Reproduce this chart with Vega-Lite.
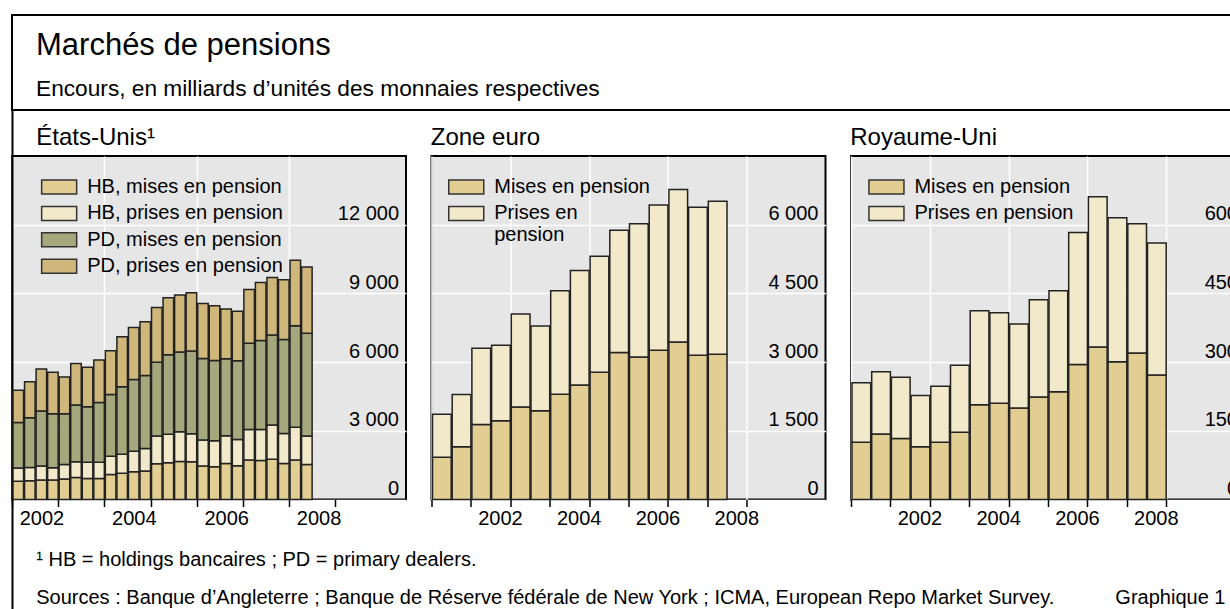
{
  "$schema": "https://vega.github.io/schema/vega-lite/v6.json",
  "padding": {"left": 10, "top": 14, "right": 0, "bottom": 0},
  "background": "#ffffff",
  "spacing": 0,
  "config": {
    "font": "Liberation Sans",
    "view": {"stroke": null},
    "title": {"fontWeight": "normal", "color": "#000000", "subtitleColor": "#000000", "anchor": "start", "baseline": "top", "font": "Liberation Sans", "subtitleFont": "Liberation Sans"},
    "axis": {"labelFont": "Liberation Sans", "labelFontSize": 20, "labelColor": "#000000", "title": null},
    "legend": {"labelFont": "Liberation Sans", "labelFontSize": 20, "labelColor": "#000000", "symbolType": "M-2,-0.8H2V0.8H-2Z", "symbolSize": 306.25, "symbolStrokeWidth": 1.5, "symbolStrokeColor": "#333333", "labelOffset": 18, "rowPadding": 6.4, "labelLimit": 400, "padding": 0, "orient": "none"}
  },
  "vconcat": [
    {
      "width": 1221,
      "height": 95,
      "view": {"stroke": "#000000", "strokeWidth": 2},
      "title": {"text": "Marchés de pensions", "subtitle": "Encours, en milliards d’unités des monnaies respectives", "orient": "bottom", "offset": -79.5, "dx": 24, "fontSize": 31, "subtitleFontSize": 22.7, "subtitlePadding": 16.3},
      "data": {"values": []},
      "mark": "text"
    },
    {
      "title": {"text": "¹ HB = holdings bancaires ; PD = primary dealers.", "subtitle": "Sources : Banque d’Angleterre ; Banque de Réserve fédérale de New York ; ICMA, European Repo Market Survey.\u00a0\u00a0\u00a0\u00a0\u00a0\u00a0\u00a0\u00a0\u00a0\u00a0\u00a0Graphique 1", "orient": "bottom", "anchor": "start", "frame": "bounds", "offset": -122.8, "dx": 26, "fontSize": 20, "subtitleFontSize": 20, "subtitlePadding": 18},
      "hconcat": [
        {
          "width": 394,
          "height": 343.5,
          "title": {"text": ["", "États-Unis¹"], "lineHeight": 14, "dx": 25, "fontSize": 24, "offset": 6},
          "view": {"fill": "#e6e6e6", "stroke": "#000000", "strokeWidth": 2},
          "layer": [
            {
              "data": {"values": [
                {"debut": 2002.0, "fin": 2002.25, "HB, mises en pension": 800, "HB, prises en pension": 580, "PD, mises en pension": 1980, "PD, prises en pension": 1410},
                {"debut": 2002.25, "fin": 2002.5, "HB, mises en pension": 820, "HB, prises en pension": 580, "PD, mises en pension": 2170, "PD, prises en pension": 1570},
                {"debut": 2002.5, "fin": 2002.75, "HB, mises en pension": 850, "HB, prises en pension": 610, "PD, mises en pension": 2400, "PD, prises en pension": 1840},
                {"debut": 2002.75, "fin": 2003.0, "HB, mises en pension": 850, "HB, prises en pension": 540, "PD, mises en pension": 2360, "PD, prises en pension": 1810},
                {"debut": 2003.0, "fin": 2003.25, "HB, mises en pension": 900, "HB, prises en pension": 630, "PD, mises en pension": 2220, "PD, prises en pension": 1600},
                {"debut": 2003.25, "fin": 2003.5, "HB, mises en pension": 960, "HB, prises en pension": 690, "PD, mises en pension": 2480, "PD, prises en pension": 1810},
                {"debut": 2003.5, "fin": 2003.75, "HB, mises en pension": 920, "HB, prises en pension": 710, "PD, mises en pension": 2420, "PD, prises en pension": 1720},
                {"debut": 2003.75, "fin": 2004.0, "HB, mises en pension": 920, "HB, prises en pension": 710, "PD, mises en pension": 2610, "PD, prises en pension": 1850},
                {"debut": 2004.0, "fin": 2004.25, "HB, mises en pension": 1090, "HB, prises en pension": 800, "PD, mises en pension": 2700, "PD, prises en pension": 1910},
                {"debut": 2004.25, "fin": 2004.5, "HB, mises en pension": 1150, "HB, prises en pension": 830, "PD, mises en pension": 2940, "PD, prises en pension": 2190},
                {"debut": 2004.5, "fin": 2004.75, "HB, mises en pension": 1210, "HB, prises en pension": 900, "PD, mises en pension": 3130, "PD, prises en pension": 2270},
                {"debut": 2004.75, "fin": 2005.0, "HB, mises en pension": 1240, "HB, prises en pension": 990, "PD, mises en pension": 3180, "PD, prises en pension": 2350},
                {"debut": 2005.0, "fin": 2005.25, "HB, mises en pension": 1560, "HB, prises en pension": 1210, "PD, mises en pension": 3220, "PD, prises en pension": 2390},
                {"debut": 2005.25, "fin": 2005.5, "HB, mises en pension": 1600, "HB, prises en pension": 1250, "PD, mises en pension": 3470, "PD, prises en pension": 2490},
                {"debut": 2005.5, "fin": 2005.75, "HB, mises en pension": 1660, "HB, prises en pension": 1300, "PD, mises en pension": 3480, "PD, prises en pension": 2490},
                {"debut": 2005.75, "fin": 2006.0, "HB, mises en pension": 1650, "HB, prises en pension": 1220, "PD, mises en pension": 3610, "PD, prises en pension": 2550},
                {"debut": 2006.0, "fin": 2006.25, "HB, mises en pension": 1460, "HB, prises en pension": 1140, "PD, mises en pension": 3560, "PD, prises en pension": 2400},
                {"debut": 2006.25, "fin": 2006.5, "HB, mises en pension": 1430, "HB, prises en pension": 1140, "PD, mises en pension": 3500, "PD, prises en pension": 2390},
                {"debut": 2006.5, "fin": 2006.75, "HB, mises en pension": 1570, "HB, prises en pension": 1210, "PD, mises en pension": 3370, "PD, prises en pension": 2170},
                {"debut": 2006.75, "fin": 2007.0, "HB, mises en pension": 1470, "HB, prises en pension": 1150, "PD, mises en pension": 3440, "PD, prises en pension": 2160},
                {"debut": 2007.0, "fin": 2007.25, "HB, mises en pension": 1720, "HB, prises en pension": 1340, "PD, mises en pension": 3760, "PD, prises en pension": 2350},
                {"debut": 2007.25, "fin": 2007.5, "HB, mises en pension": 1700, "HB, prises en pension": 1360, "PD, mises en pension": 3880, "PD, prises en pension": 2540},
                {"debut": 2007.5, "fin": 2007.75, "HB, mises en pension": 1760, "HB, prises en pension": 1490, "PD, mises en pension": 3930, "PD, prises en pension": 2510},
                {"debut": 2007.75, "fin": 2008.0, "HB, mises en pension": 1570, "HB, prises en pension": 1310, "PD, mises en pension": 4110, "PD, prises en pension": 2610},
                {"debut": 2008.0, "fin": 2008.25, "HB, mises en pension": 1720, "HB, prises en pension": 1430, "PD, mises en pension": 4440, "PD, prises en pension": 2860},
                {"debut": 2008.25, "fin": 2008.5, "HB, mises en pension": 1530, "HB, prises en pension": 1240, "PD, mises en pension": 4490, "PD, prises en pension": 2890}
              ]},
              "transform": [{"fold": ["HB, mises en pension", "HB, prises en pension", "PD, mises en pension", "PD, prises en pension"], "as": ["serie", "valeur"]}],
              "mark": {"type": "bar", "stroke": "#222222", "strokeWidth": 1.5},
              "encoding": {
                "x": {"field": "debut", "type": "quantitative", "bin": "binned", "scale": {"domain": [2002, 2010.533], "nice": false, "zero": false},
                  "axis": {"values": [2002, 2003, 2004, 2005, 2006, 2007, 2008, 2009], "labelExpr": "datum.value % 2 == 0 ? datum.value : ''", "labelOffset": 29.5, "labelPadding": 2, "labelFlush": false, "labelOverlap": false, "tickSize": 7, "tickWidth": 1.5, "tickColor": "#000000", "domain": false, "grid": true, "gridColor": "#ffffff", "gridWidth": 1.5, "gridOpacity": {"condition": {"test": "datum.value % 2 == 0", "value": 1}, "value": 0}}},
                "x2": {"field": "fin"},
                "y": {"field": "valeur", "type": "quantitative", "stack": "zero", "scale": {"domain": [0, 15000], "nice": false},
                  "axis": {"orient": "right", "values": [0, 3000, 6000, 9000, 12000], "labelExpr": "replace(format(datum.value, ','), ',', ' ')", "labelAlign": "right", "labelPadding": -7.5, "ticks": false, "tickSize": 0, "domain": false, "grid": true, "gridColor": "#ffffff", "gridWidth": 1.5, "labelBaseline": "alphabetic", "labelOffset": -5, "labelOverlap": false, "labelFlush": false}},
                "color": {"field": "serie", "type": "nominal",
                  "scale": {"domain": ["HB, mises en pension", "HB, prises en pension", "PD, mises en pension", "PD, prises en pension"], "range": ["#e2ce92", "#f2e9ca", "#a5a87c", "#cfb67b"]},
                  "legend": {"title": null, "legendX": 37.15, "legendY": 21}},
                "order": {"field": "serie", "sort": "ascending"}
              }
            },
            {
              "data": {"values": []},
              "mark": "text",
              "encoding": {
                "y": {"field": "v", "type": "quantitative", "scale": {"domain": [0, 1], "range": [470, -46]}, "axis": {"orient": "left", "domain": true, "domainColor": "#000000", "domainWidth": 2, "labels": false, "ticks": false, "grid": false, "title": null}}
              }
            }
          ],
          "resolve": {"scale": {"y": "independent"}, "axis": {"y": "independent"}}
        },
        {
          "width": 394,
          "height": 343.5,
          "title": {"text": "Zone euro", "dx": 0, "fontSize": 24, "offset": 6},
          "view": {"fill": "#e6e6e6", "stroke": "#000000", "strokeWidth": 2},
          "data": {"values": [
            {"debut": 2001.0, "fin": 2001.5, "Mises en pension": 920, "Prises en pension": 940},
            {"debut": 2001.5, "fin": 2002.0, "Mises en pension": 1150, "Prises en pension": 1140},
            {"debut": 2002.0, "fin": 2002.5, "Mises en pension": 1640, "Prises en pension": 1660},
            {"debut": 2002.5, "fin": 2003.0, "Mises en pension": 1720, "Prises en pension": 1650},
            {"debut": 2003.0, "fin": 2003.5, "Mises en pension": 2020, "Prises en pension": 2030},
            {"debut": 2003.5, "fin": 2004.0, "Mises en pension": 1940, "Prises en pension": 1850},
            {"debut": 2004.0, "fin": 2004.5, "Mises en pension": 2300, "Prises en pension": 2260},
            {"debut": 2004.5, "fin": 2005.0, "Mises en pension": 2500, "Prises en pension": 2500},
            {"debut": 2005.0, "fin": 2005.5, "Mises en pension": 2780, "Prises en pension": 2530},
            {"debut": 2005.5, "fin": 2006.0, "Mises en pension": 3210, "Prises en pension": 2670},
            {"debut": 2006.0, "fin": 2006.5, "Mises en pension": 3110, "Prises en pension": 2910},
            {"debut": 2006.5, "fin": 2007.0, "Mises en pension": 3260, "Prises en pension": 3170},
            {"debut": 2007.0, "fin": 2007.5, "Mises en pension": 3440, "Prises en pension": 3330},
            {"debut": 2007.5, "fin": 2008.0, "Mises en pension": 3150, "Prises en pension": 3230},
            {"debut": 2008.0, "fin": 2008.5, "Mises en pension": 3170, "Prises en pension": 3340}
          ]},
          "transform": [{"fold": ["Mises en pension", "Prises en pension"], "as": ["serie", "valeur"]}],
          "mark": {"type": "bar", "stroke": "#222222", "strokeWidth": 1.5},
          "encoding": {
            "x": {"field": "debut", "type": "quantitative", "bin": "binned", "scale": {"domain": [2001, 2011], "nice": false, "zero": false},
              "axis": {"values": [2001, 2002, 2003, 2004, 2005, 2006, 2007, 2008, 2009], "labelExpr": "datum.value % 2 == 0 ? datum.value : ''", "labelOffset": 29, "labelPadding": 2, "labelFlush": false, "labelOverlap": false, "tickSize": 7, "tickWidth": 1.5, "tickColor": "#000000", "domain": false, "grid": true, "gridColor": "#ffffff", "gridWidth": 1.5, "gridOpacity": {"condition": {"test": "datum.value % 2 == 1", "value": 1}, "value": 0}}},
            "x2": {"field": "fin"},
            "y": {"field": "valeur", "type": "quantitative", "stack": "zero", "scale": {"domain": [0, 7500], "nice": false},
              "axis": {"orient": "right", "values": [0, 1500, 3000, 4500, 6000], "labelExpr": "replace(format(datum.value, ','), ',', ' ')", "labelAlign": "right", "labelPadding": -7.5, "ticks": false, "tickSize": 0, "domain": false, "grid": true, "gridColor": "#ffffff", "gridWidth": 1.5, "labelBaseline": "alphabetic", "labelOffset": -5, "labelOverlap": false, "labelFlush": false}},
            "color": {"field": "serie", "type": "nominal",
              "scale": {"domain": ["Mises en pension", "Prises en pension"], "range": ["#e2ce92", "#f2e9ca"]},
              "legend": {"title": null, "legendX": 24.75, "legendY": 21, "labelExpr": "datum.label == 'Prises en pension' ? ['Prises en', 'pension'] : datum.label"}},
            "order": {"field": "serie", "sort": "ascending"}
          }
        },
        {
          "width": 394,
          "height": 343.5,
          "title": {"text": "Royaume-Uni", "dx": 0, "fontSize": 24, "offset": 6},
          "view": {"fill": "#e6e6e6", "stroke": "#000000", "strokeWidth": 2},
          "data": {"values": [
            {"debut": 2001.0, "fin": 2001.5, "Mises en pension": 125, "Prises en pension": 130},
            {"debut": 2001.5, "fin": 2002.0, "Mises en pension": 143, "Prises en pension": 136},
            {"debut": 2002.0, "fin": 2002.5, "Mises en pension": 133, "Prises en pension": 134},
            {"debut": 2002.5, "fin": 2003.0, "Mises en pension": 115, "Prises en pension": 112},
            {"debut": 2003.0, "fin": 2003.5, "Mises en pension": 125, "Prises en pension": 122},
            {"debut": 2003.5, "fin": 2004.0, "Mises en pension": 147, "Prises en pension": 146},
            {"debut": 2004.0, "fin": 2004.5, "Mises en pension": 207, "Prises en pension": 205},
            {"debut": 2004.5, "fin": 2005.0, "Mises en pension": 210, "Prises en pension": 198},
            {"debut": 2005.0, "fin": 2005.5, "Mises en pension": 200, "Prises en pension": 183},
            {"debut": 2005.5, "fin": 2006.0, "Mises en pension": 224, "Prises en pension": 212},
            {"debut": 2006.0, "fin": 2006.5, "Mises en pension": 235, "Prises en pension": 221},
            {"debut": 2006.5, "fin": 2007.0, "Mises en pension": 295, "Prises en pension": 288},
            {"debut": 2007.0, "fin": 2007.5, "Mises en pension": 333, "Prises en pension": 328},
            {"debut": 2007.5, "fin": 2008.0, "Mises en pension": 301, "Prises en pension": 314},
            {"debut": 2008.0, "fin": 2008.5, "Mises en pension": 320, "Prises en pension": 282},
            {"debut": 2008.5, "fin": 2009.0, "Mises en pension": 272, "Prises en pension": 288}
          ]},
          "transform": [{"fold": ["Mises en pension", "Prises en pension"], "as": ["serie", "valeur"]}],
          "mark": {"type": "bar", "stroke": "#222222", "strokeWidth": 1.5},
          "encoding": {
            "x": {"field": "debut", "type": "quantitative", "bin": "binned", "scale": {"domain": [2001, 2011], "nice": false, "zero": false},
              "axis": {"values": [2001, 2002, 2003, 2004, 2005, 2006, 2007, 2008, 2009], "labelExpr": "datum.value % 2 == 0 ? datum.value : ''", "labelOffset": 29, "labelPadding": 2, "labelFlush": false, "labelOverlap": false, "tickSize": 7, "tickWidth": 1.5, "tickColor": "#000000", "domain": false, "grid": true, "gridColor": "#ffffff", "gridWidth": 1.5, "gridOpacity": {"condition": {"test": "datum.value % 2 == 1", "value": 1}, "value": 0}}},
            "x2": {"field": "fin"},
            "y": {"field": "valeur", "type": "quantitative", "stack": "zero", "scale": {"domain": [0, 750], "nice": false},
              "axis": {"orient": "right", "values": [0, 150, 300, 450, 600], "labelExpr": "replace(format(datum.value, ','), ',', ' ')", "labelAlign": "right", "labelPadding": -7.5, "ticks": false, "tickSize": 0, "domain": false, "grid": true, "gridColor": "#ffffff", "gridWidth": 1.5, "labelBaseline": "alphabetic", "labelOffset": -5, "labelOverlap": false, "labelFlush": false}},
            "color": {"field": "serie", "type": "nominal",
              "scale": {"domain": ["Mises en pension", "Prises en pension"], "range": ["#e2ce92", "#f2e9ca"]},
              "legend": {"title": null, "legendX": 25.45, "legendY": 21}},
            "order": {"field": "serie", "sort": "ascending"}
          }
        }
      ],
      "bounds": "flush",
      "spacing": 25.5,
      "resolve": {"scale": {"color": "independent", "x": "independent", "y": "independent"}, "legend": {"color": "independent"}, "axis": {"x": "independent", "y": "independent"}}
    }
  ]
}
